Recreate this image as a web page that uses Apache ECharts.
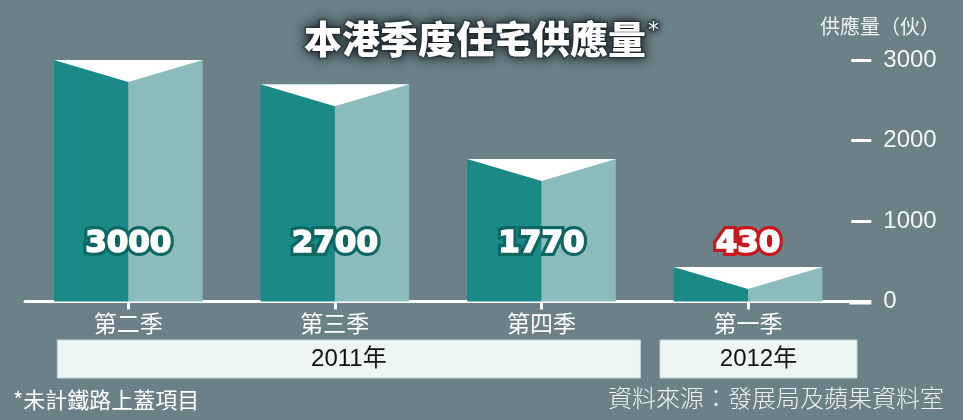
<!DOCTYPE html>
<html>
<head>
<meta charset="utf-8">
<script src="https://cdn.jsdelivr.net/npm/echarts@6/dist/echarts.min.js"></script>
<style>
html,body{margin:0;padding:0;background:#6b8087;}
#c{width:963px;height:420px;}
</style>
</head>
<body>
<div id="c"></div>
<script>
// ---- data ----
const categories = ['第二季', '第三季', '第四季', '第一季'];
const supply = [3000, 2700, 1770, 430];
const highlight = [false, false, false, true];
const yTicks = [0, 1000, 2000, 3000];
const yearGroups = ['2011年', '2012年'];
const yearGroupStart = [0, 3];
const yearGroupEnd = [2, 3];

const titleText = '本港季度住宅供應量';
const axisTitle = '供應量（伙）';
const footnote = '*未計鐵路上蓋項目';
const source = '資料來源：發展局及蘋果資料室';

// ---- styles ----
const BG = '#6b8087';
const DARK = '#1a8a87';
const LIGHT = '#8bbcbb';
const LABEL_VALUE = 715;
const BAR_RATIO = 0.72;
const TOP_DEPTH = 22;

const chart = echarts.init(document.getElementById('c'), null, {renderer: 'canvas'});

const option = {
  backgroundColor: BG,
  animation: false,
  title: {
    text: titleText + '{a|*}',
    left: 'center',
    top: 20,
    padding: 0,
    textStyle: {
      color: '#ffffff',
      fontSize: 38,
      fontWeight: 900,
      fontFamily: '"Noto Sans CJK TC", "Noto Sans CJK SC", sans-serif',
      textBorderColor: 'rgba(40,55,60,0.55)',
      textBorderWidth: 3,
      textShadowColor: 'rgba(15,22,26,1)',
      textShadowBlur: 12,
      rich: {
        a: {
          fontSize: 22,
          fontWeight: 'normal',
          color: '#ffffff',
          fontFamily: '"DejaVu Sans", sans-serif',
          verticalAlign: 'top',
          padding: [0, 0, 14, 2],
          textShadowColor: 'rgba(20,30,35,0.9)',
          textShadowBlur: 6
        }
      }
    }
  },
  grid: {left: 25, right: 111.7, top: 60, bottom: 118.5, containLabel: false},
  xAxis: {
    type: 'category',
    data: categories,
    offset: 1.5,
    axisLine: {show: true, lineStyle: {color: '#ffffff', width: 3}},
    axisTick: {show: true, alignWithLabel: true, interval: 0, length: 8, lineStyle: {color: '#ffffff', width: 3}},
    axisLabel: {
      color: '#ffffff', fontSize: 23, margin: 9,
      fontFamily: '"Noto Sans CJK TC", sans-serif'
    },
    splitLine: {show: false}
  },
  yAxis: {
    type: 'value',
    position: 'right',
    offset: 20,
    min: 0, max: 3000, interval: 1000,
    axisLine: {show: false},
    axisTick: {show: true, inside: true, length: 20, lineStyle: {color: '#ffffff', width: 3}},
    axisLabel: {
      color: '#f4f6f6', fontSize: 24, margin: 12,
      fontFamily: '"Liberation Sans", Arial, sans-serif',
      formatter: v => String(v)
    },
    splitLine: {show: false}
  },
  series: [{
    type: 'custom',
    data: supply.map((v, i) => [i, v]),
    encode: {x: 0, y: 1},
    renderItem: function (params, api) {
      const idx = api.value(0);
      const v = api.value(1);
      const top = api.coord([idx, v]);
      const base = api.coord([idx, 0]);
      const bw = api.size([1, 0])[0] * BAR_RATIO;
      const cx = top[0];
      const l = cx - bw / 2, r = cx + bw / 2;
      const ly = api.coord([idx, LABEL_VALUE])[1];
      const hi = highlight[params.dataIndex];
      const font = 'bold 31px "DejaVu Sans", sans-serif';
      return {
        type: 'group',
        children: [
          {type: 'rect', shape: {x: l, y: top[1], width: bw / 2, height: base[1] - top[1]}, style: {fill: DARK}},
          {type: 'rect', shape: {x: cx, y: top[1], width: bw / 2, height: base[1] - top[1]}, style: {fill: LIGHT}},
          {type: 'polygon', shape: {points: [[l, top[1]], [r, top[1]], [cx, top[1] + TOP_DEPTH]]}, style: {fill: '#ffffff'}},
          {type: 'text', z2: 10, style: {
            text: String(v), x: cx, y: ly, align: 'center', verticalAlign: 'middle',
            fill: '#ffffff', font: font,
            stroke: hi ? '#c8161d' : '#0d6863', lineWidth: 8
          }},
          {type: 'text', z2: 11, style: {
            text: String(v), x: cx, y: ly, align: 'center', verticalAlign: 'middle',
            fill: '#ffffff', font: font,
            stroke: '#ffffff', lineWidth: 1.6
          }}
        ]
      };
    }
  }]
};
chart.setOption(option);

// decorations derived from axes
function drawGraphics() {
  const base = chart.convertToPixel({yAxisIndex: 0}, 0);
  const band = chart.convertToPixel({xAxisIndex: 0}, 1) - chart.convertToPixel({xAxisIndex: 0}, 0);
  const gridRight = chart.convertToPixel({xAxisIndex: 0}, 3) + band / 2;
  const els = [];
  // baseline extension to the value axis
  els.push({type: 'line', shape: {x1: gridRight - 2, y1: base + 1.5, x2: gridRight + 20, y2: base + 1.5},
    style: {stroke: '#ffffff', lineWidth: 3}});
  // year group boxes
  const leftPad = [71, 88];
  const rightPad = [99, 109];
  yearGroups.forEach((g, i) => {
    const x1 = chart.convertToPixel({xAxisIndex: 0}, yearGroupStart[i]) - leftPad[i];
    const x2 = chart.convertToPixel({xAxisIndex: 0}, yearGroupEnd[i]) + rightPad[i];
    els.push({type: 'rect', shape: {x: x1, y: 340, width: x2 - x1, height: 38},
      style: {fill: '#eef6f5', stroke: '#c5d6d6', lineWidth: 1}});
    els.push({type: 'text', style: {text: g, x: (x1 + x2) / 2, y: 359, align: 'center', verticalAlign: 'middle',
      fill: '#111111', font: '24px "Liberation Sans", "Noto Sans CJK TC", sans-serif'}});
  });
  // axis title
  els.push({type: 'text', style: {text: axisTitle, x: 880, y: 26, align: 'center', verticalAlign: 'middle',
    fill: '#f0f3f3', font: '20px "Noto Sans CJK TC", sans-serif'}});
  // footnote & source
  els.push({type: 'text', style: {text: footnote, x: 13, y: 400, align: 'left', verticalAlign: 'middle',
    fill: '#ffffff', font: '22px "Noto Sans CJK TC", sans-serif'}});
  els.push({type: 'text', style: {text: source, x: 944, y: 398, align: 'right', verticalAlign: 'middle',
    fill: '#f0f3f3', font: '300 24px "Noto Sans CJK TC", sans-serif'}});
  chart.setOption({graphic: {elements: els}});
}
drawGraphics();
</script>
</body>
</html>
